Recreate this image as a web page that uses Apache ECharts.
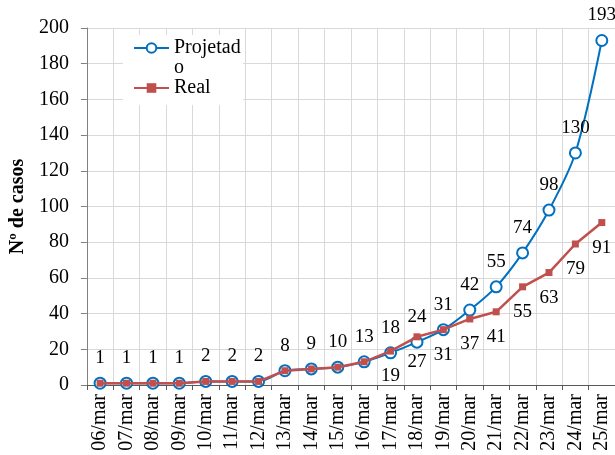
<!DOCTYPE html>
<html>
<head>
<meta charset="utf-8">
<script src="https://cdn.jsdelivr.net/npm/echarts@6/dist/echarts.min.js"></script>
<style>html,body{margin:0;padding:0;background:#fff}#c{width:615px;height:455px}</style>
</head>
<body>
<div id="c"></div>
<script>
const categories = ['06/mar','07/mar','08/mar','09/mar','10/mar','11/mar','12/mar','13/mar','14/mar','15/mar','16/mar','17/mar','18/mar','19/mar','20/mar','21/mar','22/mar','23/mar','24/mar','25/mar'];
const projetado = [1,1,1,1,2,2,2,8,9,10,13,18,24,31,42,55,74,98,130,193];
const real = [1,1,1,1,2,2,2,8,9,10,13,19,27,31,37,41,55,63,79,91];
const realLabelStart = 11;
const yTicks = {min: 0, max: 200, interval: 20};

const FONT = 'Liberation Serif';
const chart = echarts.init(document.getElementById('c'));
chart.setOption({
  animation: false,
  backgroundColor: '#fff',
  grid: {left: 81, right: -2, top: 28, bottom: 70},
  graphic: [{
    type: 'rect', left: 123, top: 35, z: 1,
    shape: {width: 120, height: 70},
    style: {fill: '#fff'}
  }],
  legend: {
    orient: 'vertical',
    left: 133, top: 18,
    padding: 0,
    itemWidth: 35, itemHeight: 12, itemGap: 0,
    textStyle: {fontFamily: FONT, fontSize: 20, color: '#000', width: 70, overflow: 'breakAll', lineHeight: 20},
    formatter: name => name === 'Projetado' ? '\n' + name : name,
    data: ['Projetado', 'Real']
  },
  xAxis: {
    type: 'category',
    data: categories,
    boundaryGap: true,
    axisLine: {lineStyle: {color: '#595959', width: 1}},
    axisTick: {show: true, length: 5, lineStyle: {color: '#595959'}},
    axisLabel: {rotate: 90, fontFamily: FONT, fontSize: 20, color: '#000', margin: 9, interval: 0},
    splitLine: {show: true, lineStyle: {color: '#d9d9d9', width: 1}}
  },
  yAxis: {
    type: 'value',
    min: yTicks.min, max: yTicks.max, interval: yTicks.interval,
    name: 'Nº de casos',
    nameLocation: 'middle',
    nameGap: 50,
    nameTextStyle: {fontFamily: FONT, fontSize: 20, fontWeight: 'bold', color: '#000'},
    axisLine: {show: true, lineStyle: {color: '#808080', width: 1}},
    axisTick: {show: true, length: 6, lineStyle: {color: '#808080'}},
    axisLabel: {fontFamily: FONT, fontSize: 20, color: '#000', margin: 18},
    splitLine: {show: true, lineStyle: {color: '#d9d9d9', width: 1}}
  },
  series: [
    {
      name: 'Projetado',
      type: 'line',
      data: projetado,
      smooth: 0.3,
      symbol: 'emptyCircle',
      symbolSize: 11,
      itemStyle: {color: '#0070C0', borderWidth: 1.5},
      lineStyle: {color: '#0070C0', width: 2},
      label: {show: true, position: 'top', distance: 9, fontFamily: FONT, fontSize: 19, color: '#000'},
      z: 2
    },
    {
      name: 'Real',
      type: 'line',
      data: real,
      symbol: 'rect',
      symbolSize: 7,
      itemStyle: {color: '#C0504D'},
      lineStyle: {color: '#C0504D', width: 2.5},
      label: {show: true, position: 'bottom', distance: 12, fontFamily: FONT, fontSize: 19, color: '#000',
        formatter: p => p.dataIndex >= realLabelStart ? String(p.value) : ''},
      z: 3
    }
  ]
});
</script>
</body>
</html>
